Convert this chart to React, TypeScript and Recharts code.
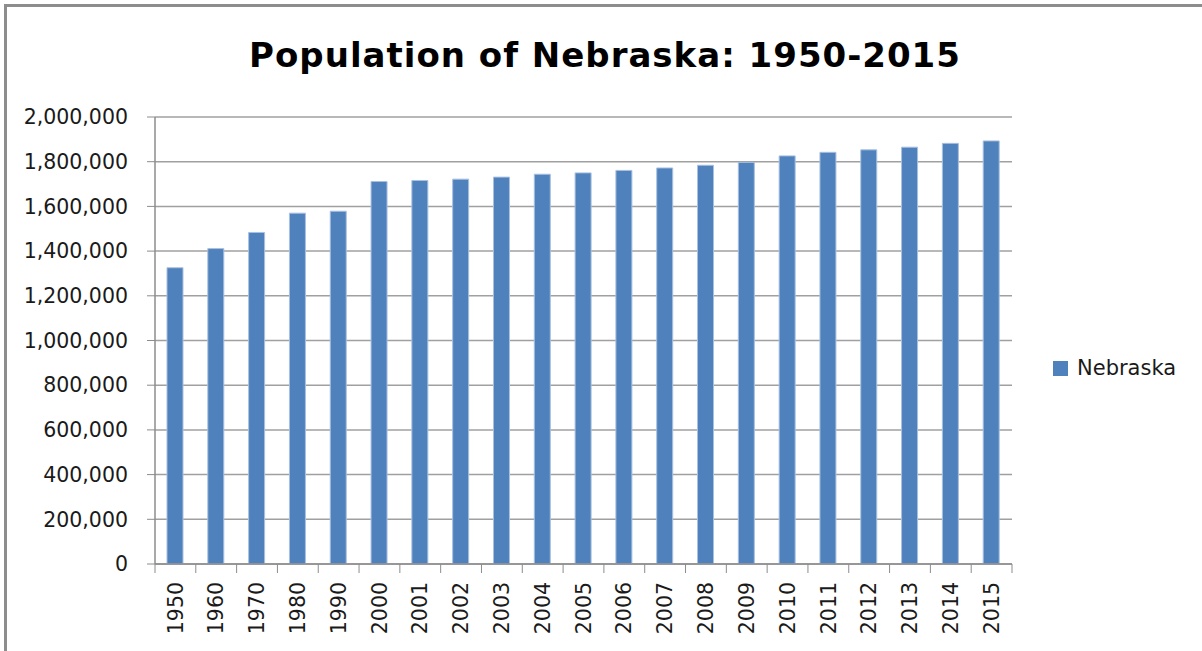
import { BarChart, Bar, XAxis, YAxis, CartesianGrid, Legend } from "recharts";

const years = [
  "1950", "1960", "1970", "1980", "1990", "2000", "2001", "2002", "2003", "2004", "2005",
  "2006", "2007", "2008", "2009", "2010", "2011", "2012", "2013", "2014", "2015",
];
const nebraska = [
  1325510, 1411330, 1483493, 1569825, 1578385, 1711263, 1716000, 1722000, 1731000, 1744000, 1750000,
  1761000, 1772000, 1784000, 1797000, 1826000, 1842000, 1853000, 1865000, 1882000, 1893000,
];
const yTicks = [0, 200000, 400000, 600000, 800000, 1000000, 1200000, 1400000, 1600000, 1800000, 2000000];

const W = 1202;
const H = 651;
const MARGIN = { top: 117, right: 190, bottom: 7, left: 5 };
const Y_AXIS_W = 150;
const X_AXIS_H = 80;
const PLOT_LEFT = MARGIN.left + Y_AXIS_W;
const PLOT_RIGHT = W - MARGIN.right;
const AXIS_Y = H - MARGIN.bottom - X_AXIS_H;
const BAND = (PLOT_RIGHT - PLOT_LEFT) / years.length;

const FONT = "'DejaVu Sans', sans-serif";
const AXIS_COLOR = "#8c8c8c";
const GRID_COLOR = "#a0a0a0";
const BAR_COLOR = "#4f81bd";

const data = years.map((year, i) => ({ year, Nebraska: nebraska[i] }));

function YearTick(props: any) {
  const { x, payload, index } = props;
  const left = x - BAND / 2;
  return (
    <g>
      <line x1={left} x2={left} y1={AXIS_Y} y2={AXIS_Y + 9} stroke={AXIS_COLOR} />
      {index === years.length - 1 && (
        <line x1={left + BAND} x2={left + BAND} y1={AXIS_Y} y2={AXIS_Y + 9} stroke={AXIS_COLOR} />
      )}
      <text
        x={x}
        y={AXIS_Y + 18}
        dy="0.35em"
        transform={`rotate(-90, ${x}, ${AXIS_Y + 18})`}
        textAnchor="end"
        fontFamily={FONT}
        fontSize={20.5}
        fill="#1a1a1a"
      >
        {payload.value}
      </text>
    </g>
  );
}

function LegendBox(props: any) {
  const { payload } = props;
  return (
    <div>
      {(payload || []).map((p: any) => (
        <div key={p.value} style={{ display: "flex", alignItems: "center", fontFamily: FONT, fontSize: 21, color: "#1a1a1a" }}>
          <span style={{ width: 15, height: 15, background: BAR_COLOR, marginRight: 9, display: "inline-block" }} />
          {p.value}
        </div>
      ))}
    </div>
  );
}

export default function App() {
  return (
    <div style={{ position: "absolute", left: 0, top: 0, width: W, height: H, background: "#fff", overflow: "hidden" }}>
      <div
        style={{
          position: "absolute",
          left: 4,
          top: 4,
          width: W,
          height: H,
          borderTop: "3px solid #8d8d8d",
          borderLeft: "3px solid #8d8d8d",
        }}
      />
      <BarChart
        width={W}
        height={H}
        data={data}
        margin={MARGIN}
        style={{ position: "absolute", left: 0, top: 0 }}
      >
        <text
          x={605}
          y={67}
          textAnchor="middle"
          fontFamily={FONT}
          fontWeight="bold"
          fontSize={34}
          letterSpacing={1}
          fill="#000"
        >
          Population of Nebraska: 1950-2015
        </text>
        <CartesianGrid vertical={false} stroke={GRID_COLOR} strokeWidth={1.5} />
        <XAxis
          dataKey="year"
          height={X_AXIS_H}
          interval={0}
          tickLine={false}
          axisLine={{ stroke: AXIS_COLOR, strokeWidth: 1.5 }}
          tick={<YearTick />}
        />
        <YAxis
          width={Y_AXIS_W}
          domain={[0, 2000000]}
          ticks={yTicks}
          interval={0}
          tickSize={8}
          tickMargin={19}
          tickFormatter={(v: number) => v.toLocaleString("en-US")}
          tick={{ fontFamily: FONT, fontSize: 20.5, fill: "#1a1a1a" }}
          tickLine={{ stroke: AXIS_COLOR }}
          axisLine={{ stroke: AXIS_COLOR, strokeWidth: 1.5 }}
        />
        <Legend
          layout="horizontal"
          align="center"
          verticalAlign="middle"
          content={<LegendBox />}
          wrapperStyle={{ left: 1053, top: 356, width: 140 }}
        />
        <Bar
          dataKey="Nebraska"
          fill={BAR_COLOR}
          stroke="#a9c0df"
          strokeWidth={1}
          barSize={16}
          isAnimationActive={false}
        />
      </BarChart>
    </div>
  );
}
